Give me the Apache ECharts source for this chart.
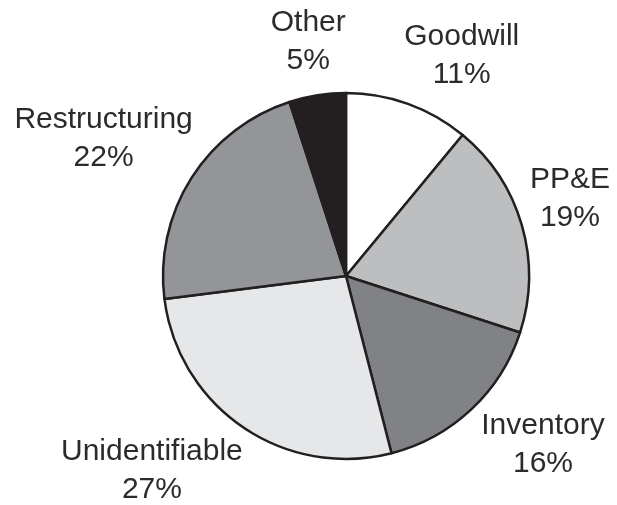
<!DOCTYPE html>
<html>
<head>
<meta charset="utf-8">
<script src="https://cdn.jsdelivr.net/npm/echarts@6/dist/echarts.min.js"></script>
<style>
html,body{margin:0;padding:0;background:#fff;}
#chart{width:617px;height:505px;}
</style>
</head>
<body>
<div id="chart"></div>
<script>
var categories = ['Goodwill', 'PP&E', 'Inventory', 'Unidentifiable', 'Restructuring', 'Other'];
var values = [11, 19, 16, 27, 22, 5];
var sliceColors = ['#ffffff', '#bcbec0', '#808285', '#e6e7e8', '#939598', '#231f20'];
// label offsets (style tweaks) relative to default outside position
var labelShift = [[42, -29], [24, -21], [53, 21], [-75, 27], [-66, -28], [-1, -34]];

var chart = echarts.init(document.getElementById('chart'), null, {renderer: 'canvas'});
var data = categories.map(function (c, i) {
  return {name: c, value: values[i], itemStyle: {color: sliceColors[i]}};
});
chart.setOption({
  animation: false,
  backgroundColor: '#ffffff',
  series: [{
    type: 'pie',
    center: [346, 276],
    radius: [0, 183],
    startAngle: 90,
    clockwise: true,
    avoidLabelOverlap: false,
    data: data,
    itemStyle: {borderColor: '#231f20', borderWidth: 2.5},
    emphasis: {disabled: true},
    label: {
      show: true,
      position: 'outside',
      alignTo: 'none',
      formatter: function (p) { return p.name + '\n' + p.value + '%'; },
      fontFamily: 'Liberation Sans',
      fontSize: 30,
      lineHeight: 38,
      color: '#2b2b2b'
    },
    labelLine: {show: false, length: 20, length2: 0},
    labelLayout: function (p) {
      var s = labelShift[p.dataIndex];
      return {align: 'center', dx: s[0], dy: s[1]};
    }
  }]
});
</script>
</body>
</html>
